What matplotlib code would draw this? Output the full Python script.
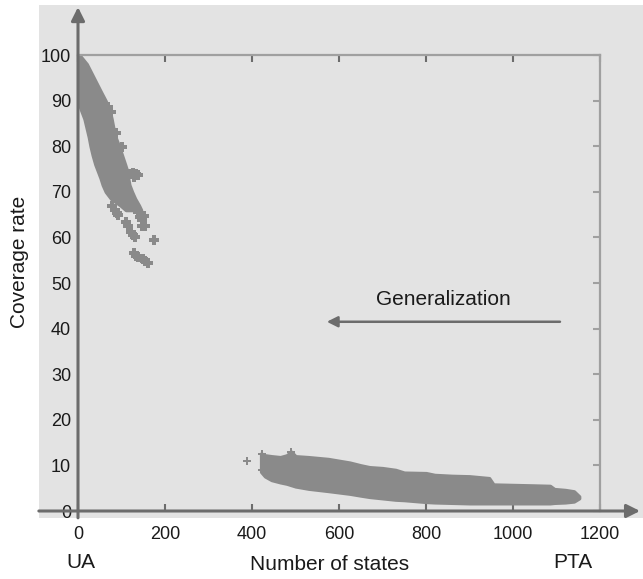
import matplotlib
matplotlib.use("Agg")
import matplotlib.pyplot as plt
from matplotlib.patches import Rectangle

plt.rcParams['font.family'] = ['Liberation Sans', 'DejaVu Sans']

# ---------------- data ----------------
x_ticks = [0, 200, 400, 600, 800, 1000, 1200]
y_ticks = [0, 10, 20, 30, 40, 50, 60, 70, 80, 90, 100]

# UA-side cluster (dense band): coverage levels with left/right extent in states
ua_band_y = [100, 98, 95, 92, 90, 88, 86, 84, 82, 80, 78, 76, 74.5, 73, 71.5, 70, 68.5, 67, 66]
ua_band_left = [0, 0, 0, 0, 0, 7, 15, 20, 25, 29, 34, 40, 46, 52, 57, 64, 76, 98, 110]
ua_band_right = [3, 20, 36, 52, 63, 72, 77, 81, 86, 94, 101, 108, 113, 115, 118, 124, 131, 140, 145]

# UA-side scattered points
ua_pts_x = [120, 127, 134, 138, 129, 79, 85, 90, 93, 110, 116, 121, 126, 131, 137, 143, 148, 151,
            153, 146, 175, 129, 134, 138, 149, 155, 160, 68, 75, 88, 100]
ua_pts_y = [73.8, 74.2, 74.0, 73.6, 73.2, 66.8, 66.0, 65.4, 65.0, 63.4, 62.6, 61.2, 60.6, 60.0,
            65.6, 64.4, 63.8, 64.6, 62.6, 62.4, 59.4, 56.6, 56.0, 55.7, 55.2, 54.8, 54.4, 88.6, 87.5,
            83.0, 79.8]

# PTA-side cluster (dense band): states with lower/upper coverage
pta_band_x = [421, 430, 445, 465, 480, 490, 500, 530, 575, 600, 625, 650, 670, 700, 730, 750, 800,
              820, 860, 900, 945, 955, 1000, 1045, 1085, 1095, 1120, 1140, 1152]
pta_band_upper = [12.6, 12.2, 12.0, 11.8, 12.2, 13.0, 12.0, 11.8, 11.4, 11.0, 10.6, 10.0, 9.6, 9.4,
                  9.0, 8.4, 8.3, 7.9, 7.7, 7.6, 7.2, 5.8, 5.7, 5.6, 5.5, 4.8, 4.6, 4.3, 3.2]
pta_band_lower = [8.6, 7.6, 6.8, 6.3, 6.0, 5.7, 5.4, 4.9, 4.4, 4.1, 3.8, 3.4, 3.1, 2.8, 2.5, 2.4,
                  2.0, 1.9, 1.8, 1.7, 1.7, 1.7, 1.7, 1.7, 1.7, 1.8, 1.9, 2.1, 2.8]

# PTA-side scattered points
pta_pts_x = [388, 424, 424, 489]
pta_pts_y = [10.9, 12.6, 9.0, 12.9]

arrow_start = (1108, 41.5)
arrow_end = (572, 41.5)

# ---------------- styling ----------------
W, H = 643, 579
bg = '#e3e3e3'
pt_color = '#8a8a8a'
axis_color = '#6c6c6c'
box_color = '#a0a0a0'
text_color = '#1a1a1a'

fig = plt.figure(figsize=(W / 100, H / 100), dpi=100)
fig.patch.set_facecolor('white')

# grey panel behind everything
bg_ax = fig.add_axes([39 / W, 1 - 518 / H, (W - 39) / W, (518 - 5) / H], zorder=-10)
bg_ax.set_facecolor(bg)
bg_ax.set_axis_off()
bg_ax.add_patch(Rectangle((0, 0), 1, 1, transform=bg_ax.transAxes, facecolor=bg, edgecolor='none'))

ax = fig.add_axes([78 / W, 1 - 511 / H, 522 / W, 456 / H], zorder=1)
ax.set_facecolor('none')

for s in ['top', 'right']:
    ax.spines[s].set_color(box_color)
    ax.spines[s].set_linewidth(1.6)
for s in ['left', 'bottom']:
    ax.spines[s].set_visible(False)

# data
ax.fill_betweenx(ua_band_y, ua_band_left, ua_band_right, color=pt_color, linewidth=2.5,
                 edgecolor=pt_color, zorder=2)
ax.scatter(ua_pts_x, ua_pts_y, marker='P', s=48, color=pt_color, linewidths=0, zorder=2)
ax.fill_between(pta_band_x, pta_band_lower, pta_band_upper, color=pt_color, linewidth=2.5,
                edgecolor=pt_color, zorder=2)
ax.scatter(pta_pts_x, pta_pts_y, marker='P', s=40, color=pt_color, linewidths=0, zorder=2)

# axes with arrow heads
ax.annotate('', xy=(1292, 0), xytext=(-90, 0), xycoords='data',
            arrowprops=dict(arrowstyle='-|>', color=axis_color, lw=2.2, mutation_scale=20,
                            shrinkA=0, shrinkB=0), annotation_clip=False, zorder=5)
ax.annotate('', xy=(0, 110.5), xytext=(0, -1.5), xycoords='data',
            arrowprops=dict(arrowstyle='-|>', color=axis_color, lw=2.2, mutation_scale=20,
                            shrinkA=0, shrinkB=0), annotation_clip=False, zorder=5)

# generalization arrow
ax.annotate('', xy=arrow_end, xytext=arrow_start,
            arrowprops=dict(arrowstyle='-|>', color=axis_color, lw=1.8, mutation_scale=16,
                            shrinkA=0, shrinkB=0), zorder=4)
ax.text(840, 46.3, 'Generalization', ha='center', va='center', fontsize=15, color=text_color)

ax.set_xlim(0, 1200)
ax.set_ylim(0, 100)
ax.set_xticks(x_ticks)
ax.set_yticks(y_ticks)
ax.tick_params(axis='x', direction='in', length=5, width=1.5, color=axis_color,
               top=True, bottom=True, pad=11, labelsize=13, labelcolor=text_color)
ax.tick_params(axis='y', direction='in', length=5, width=1.5, color=box_color,
               left=False, right=True, pad=5, labelsize=13, labelcolor=text_color)

# labels
fig.text(20 / W, 1 - 262 / H, 'Coverage rate', rotation=90, ha='center', va='center',
         fontsize=15, color=text_color)
fig.text(330 / W, 1 - 565 / H, 'Number of states', ha='center', va='center',
         fontsize=15, color=text_color)
fig.text(81 / W, 1 - 563 / H, 'UA', ha='center', va='center', fontsize=15, color=text_color)
fig.text(573 / W, 1 - 563 / H, 'PTA', ha='center', va='center', fontsize=15, color=text_color)

fig.savefig('out.png', dpi=100, facecolor='white')
